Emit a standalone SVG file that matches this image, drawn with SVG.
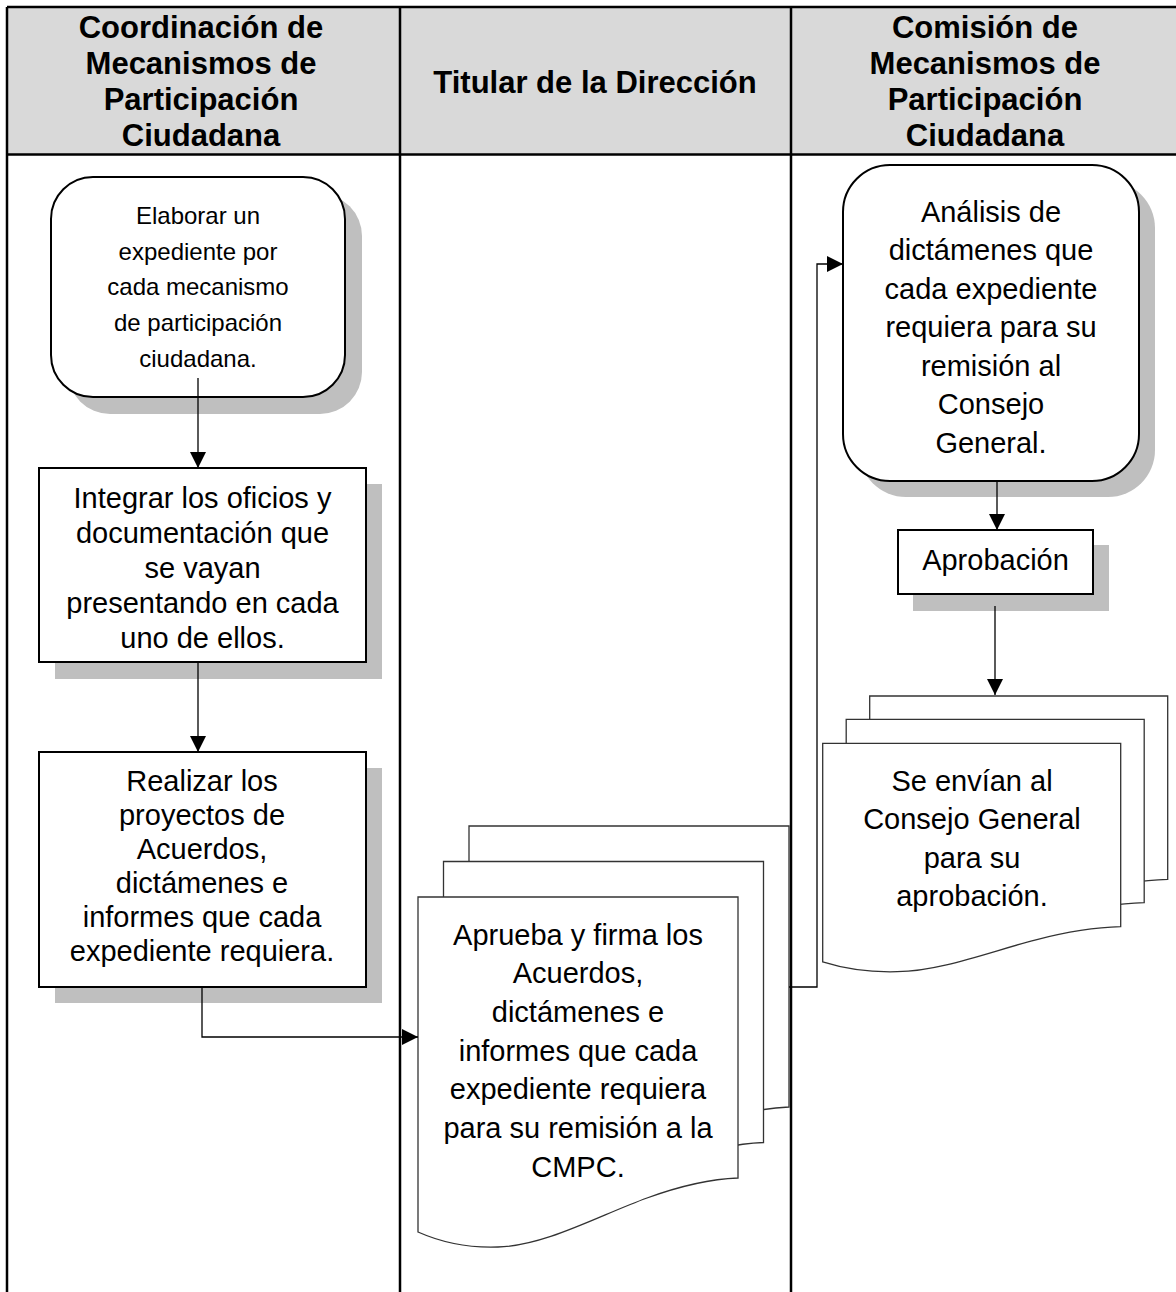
<svg xmlns="http://www.w3.org/2000/svg" width="1176" height="1292" viewBox="0 0 1176 1292">
<defs>
<marker id="ah" markerUnits="userSpaceOnUse" markerWidth="17" markerHeight="16" refX="16" refY="8" orient="auto" viewBox="0 0 17 16"><path d="M0,0 L16,8 L0,16 Z" fill="#000"/></marker>
</defs>
<style>
.lane{fill:none;stroke:#000;stroke-width:2.5}
.hdr{font-family:"Liberation Sans",Arial,sans-serif;font-weight:bold;font-size:31px;text-anchor:middle;fill:#000}
.t{font-family:"Liberation Sans",Arial,sans-serif;font-size:29px;text-anchor:middle;fill:#000}
.ts{font-family:"Liberation Sans",Arial,sans-serif;font-size:24px;text-anchor:middle;fill:#000}
.box{fill:#fff;stroke:#000;stroke-width:2}
.shadow{fill:#bfbfbf}
.doc{fill:#fff;stroke:#333;stroke-width:1.3}
.conn{fill:none;stroke:#000;stroke-width:1.3;marker-end:url(#ah)}
</style>
<rect width="1176" height="1292" fill="#fff"/>
<g id="lanes">
<rect x="7" y="7" width="1175" height="147.5" fill="#d9d9d9"/>
<path class="lane" d="M7,7 H1180 M7,154.5 H1180 M7,7 V1292 M400,7 V1292 M791,7 V1292"/>
<text class="hdr"><tspan x="201" y="37.5">Coordinación de</tspan><tspan x="201" y="73.7">Mecanismos de</tspan><tspan x="201" y="109.9">Participación</tspan><tspan x="201" y="146.1">Ciudadana</tspan></text>
<text class="hdr" x="595" y="93">Titular de la Dirección</text>
<text class="hdr"><tspan x="985" y="37.5">Comisión de</tspan><tspan x="985" y="73.7">Mecanismos de</tspan><tspan x="985" y="109.9">Participación</tspan><tspan x="985" y="146.1">Ciudadana</tspan></text>
</g>
<g id="n1">
<rect class="shadow" x="68" y="194" width="294" height="220" rx="42"/>
<rect class="box" x="51" y="177" width="294" height="220" rx="42"/>
<text class="ts"><tspan x="198" y="224">Elaborar un</tspan><tspan x="198" y="259.7">expediente por</tspan><tspan x="198" y="295.4">cada mecanismo</tspan><tspan x="198" y="331.1">de participación</tspan><tspan x="198" y="366.8">ciudadana.</tspan></text>
</g>
<g id="n2">
<rect class="shadow" x="55" y="484" width="327" height="195"/>
<rect class="box" x="39" y="468" width="327" height="194"/>
<text class="t"><tspan x="202.5" y="508">Integrar los oficios y</tspan><tspan x="202.5" y="543">documentación que</tspan><tspan x="202.5" y="578">se vayan</tspan><tspan x="202.5" y="613">presentando en cada</tspan><tspan x="202.5" y="648">uno de ellos.</tspan></text>
</g>
<g id="n3">
<rect class="shadow" x="55" y="768" width="327" height="235"/>
<rect class="box" x="39" y="752" width="327" height="235"/>
<text class="t"><tspan x="202" y="791">Realizar los</tspan><tspan x="202" y="825">proyectos de</tspan><tspan x="202" y="859">Acuerdos,</tspan><tspan x="202" y="893">dictámenes e</tspan><tspan x="202" y="927">informes que cada</tspan><tspan x="202" y="961">expediente requiera.</tspan></text>
</g>
<g id="n4">
<path class="doc" transform="translate(51,-71)" d="M418,897 H738 V1178 C710,1179 680,1186 647,1198 C600,1215 545,1246 498,1247 C470,1248 445,1244 418,1232 Z"/>
<path class="doc" transform="translate(25.5,-35.5)" d="M418,897 H738 V1178 C710,1179 680,1186 647,1198 C600,1215 545,1246 498,1247 C470,1248 445,1244 418,1232 Z"/>
<path class="doc" d="M418,897 H738 V1178 C710,1179 680,1186 647,1198 C600,1215 545,1246 498,1247 C470,1248 445,1244 418,1232 Z"/>
<text class="t"><tspan x="578" y="944.5">Aprueba y firma los</tspan><tspan x="578" y="983.2">Acuerdos,</tspan><tspan x="578" y="1021.8">dictámenes e</tspan><tspan x="578" y="1060.5">informes que cada</tspan><tspan x="578" y="1099.2">expediente requiera</tspan><tspan x="578" y="1137.8">para su remisión a la</tspan><tspan x="578" y="1176.5">CMPC.</tspan></text>
</g>
<g id="n5">
<rect class="shadow" x="859" y="181" width="296" height="316" rx="47"/>
<rect class="box" x="843" y="165" width="296" height="316" rx="47"/>
<text class="t"><tspan x="991" y="221.5">Análisis de</tspan><tspan x="991" y="260">dictámenes que</tspan><tspan x="991" y="298.5">cada expediente</tspan><tspan x="991" y="337">requiera para su</tspan><tspan x="991" y="375.5">remisión al</tspan><tspan x="991" y="414">Consejo</tspan><tspan x="991" y="452.5">General.</tspan></text>
</g>
<g id="n6">
<rect class="shadow" x="913" y="545" width="196" height="66"/>
<rect class="box" x="898" y="530" width="195" height="64"/>
<text class="t" x="995.5" y="569.5">Aprobación</text>
</g>
<g id="n7">
<path class="doc" transform="translate(47,-47.3)" d="M822.7,743.3 H1120.7 V926.7 C1094.6,927.4 1066.7,931.9 1035.9,939.8 C992.2,950.9 941,971.1 897.2,971.7 C871.1,972.4 847.7,969.8 822.7,961.9 Z"/>
<path class="doc" transform="translate(23.5,-24)" d="M822.7,743.3 H1120.7 V926.7 C1094.6,927.4 1066.7,931.9 1035.9,939.8 C992.2,950.9 941,971.1 897.2,971.7 C871.1,972.4 847.7,969.8 822.7,961.9 Z"/>
<path class="doc" d="M822.7,743.3 H1120.7 V926.7 C1094.6,927.4 1066.7,931.9 1035.9,939.8 C992.2,950.9 941,971.1 897.2,971.7 C871.1,972.4 847.7,969.8 822.7,961.9 Z"/>
<text class="t"><tspan x="972" y="790.5">Se envían al</tspan><tspan x="972" y="829">Consejo General</tspan><tspan x="972" y="867.5">para su</tspan><tspan x="972" y="906">aprobación.</tspan></text>
</g>
<g id="connectors">
<path class="conn" d="M198,378 V468"/>
<path class="conn" d="M198,662 V752"/>
<path class="conn" d="M202,987 V1037 H418"/>
<path class="conn" d="M789,987 H817 V264 H843"/>
<path class="conn" d="M997,481 V530"/>
<path class="conn" d="M995,606 V695"/>
</g>
</svg>
